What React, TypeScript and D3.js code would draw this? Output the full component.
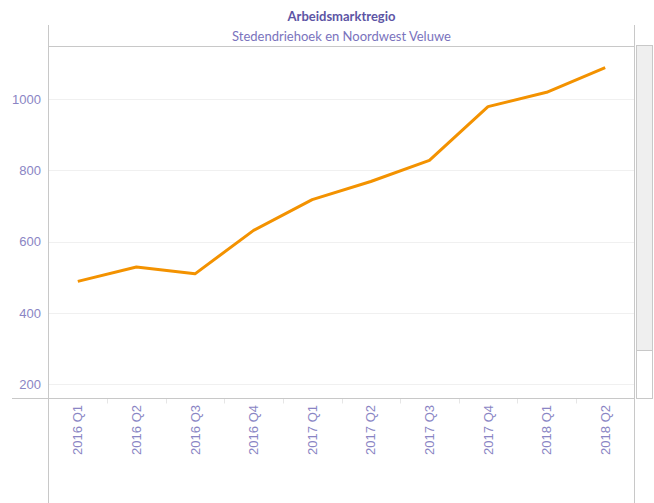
import React from "react";
import * as d3 from "d3";

const categories = ["2016 Q1", "2016 Q2", "2016 Q3", "2016 Q4", "2017 Q1", "2017 Q2", "2017 Q3", "2017 Q4", "2018 Q1", "2018 Q2"];
const values = [489, 529, 510, 632, 718, 769, 828, 979, 1019, 1088];
const yTicks = [200, 400, 600, 800, 1000];
const title = "Arbeidsmarktregio";
const subtitle = "Stedendriehoek en Noordwest Veluwe";

export default function App() {
  const W = 654, H = 503;
  const left = 48.5, right = 634.5, top = 46.5, bottom = 398.5;
  const x = d3.scaleBand<string>().domain(categories).range([left, right]).padding(0);
  const y = d3.scaleLinear().domain([160.5, 1147.5]).range([bottom, top]);
  const line = d3.line<number>()
    .x((_, i) => (x(categories[i]) as number) + x.bandwidth() / 2)
    .y((d) => y(d));
  const tickFont = "'Liberation Sans', Arial, sans-serif";
  const titleFont = "Lato, 'Open Sans', sans-serif";
  return (
    <svg width={W} height={H} style={{ position: "absolute", left: 0, top: 0, background: "#fff" }}>
      <text x={(left + right) / 2} y={21} textAnchor="middle" fontFamily={titleFont} fontWeight={700} fontSize={13} fill="#5d55a5">{title}</text>
      <text x={(left + right) / 2} y={41} textAnchor="middle" fontFamily={titleFont} fontSize={13} fill="#7a73bd">{subtitle}</text>
      {yTicks.map((t) => (
        <g key={t}>
          <line x1={left} x2={right} y1={Math.round(y(t)) + 0.5} y2={Math.round(y(t)) + 0.5} stroke="#f0f0f0" strokeWidth={1} />
          <text x={41} y={y(t)} dy="0.35em" textAnchor="end" fontFamily={tickFont} fontSize={13} fill="#8a85c4">{t}</text>
        </g>
      ))}
      {categories.slice(1).map((c) => (
        <line key={c} x1={Math.round(x(c) as number) + 0.5} x2={Math.round(x(c) as number) + 0.5} y1={bottom} y2={bottom + 5} stroke="#e6e6e6" />
      ))}
      {categories.map((c) => {
        const cx = (x(c) as number) + x.bandwidth() / 2;
        return (
          <text key={c} transform={`translate(${cx + 4.5},${405}) rotate(-90)`} textAnchor="end" fontFamily={tickFont} fontSize={13} fill="#8a85c4">{c}</text>
        );
      })}
      <line x1={left} x2={left} y1={25} y2={H} stroke="#c8c8c8" />
      <line x1={right} x2={right} y1={25} y2={H} stroke="#c8c8c8" />
      <line x1={left} x2={right} y1={top} y2={top} stroke="#c8c8c8" />
      <line x1={12} x2={right} y1={bottom} y2={bottom} stroke="#c8c8c8" />
      <path d={line(values) || ""} fill="none" stroke="#f39200" strokeWidth={3} strokeLinejoin="round" />
      <rect x={636.5} y={45.5} width={16} height={353} fill="#fff" stroke="#c8c8c8" />
      <rect x={636.5} y={45.5} width={16} height={305} fill="#efefef" stroke="#c8c8c8" />
    </svg>
  );
}
